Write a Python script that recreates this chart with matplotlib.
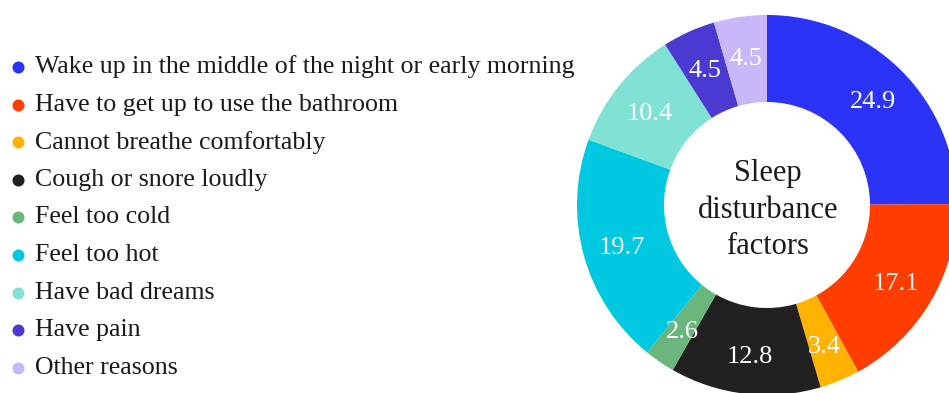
import matplotlib
matplotlib.use("Agg")
import matplotlib.pyplot as plt

categories = [
    "Wake up in the middle of the night or early morning",
    "Have to get up to use the bathroom",
    "Cannot breathe comfortably",
    "Cough or snore loudly",
    "Feel too cold",
    "Feel too hot",
    "Have bad dreams",
    "Have pain",
    "Other reasons",
]
values = [24.9, 17.1, 3.4, 12.8, 2.6, 19.7, 10.4, 4.5, 4.5]
colors = ["#2b33f6", "#ff3d00", "#ffb300", "#212121", "#6ab67c",
          "#00c8e0", "#80e1d5", "#4b3ad1", "#c8b8fa"]
center_title = "Sleep\ndisturbance\nfactors"

W, H = 949, 393
fig = plt.figure(figsize=(W / 100, H / 100), dpi=100)
ax = fig.add_axes([0, 0, 1, 1])

font = "Liberation Serif"
cx, cy = 767, H - 205
R, r = 190, 103

wedges, texts = ax.pie(
    values, colors=colors, startangle=90, counterclock=False,
    center=(cx, cy), radius=R, labels=[f"{v:.1f}" for v in values],
    labeldistance=0.79,
    wedgeprops=dict(width=R - r, linewidth=0),
    textprops=dict(color="white", fontsize=19, family=font,
                   ha="center", va="center"),
    frame=True,
)
for t in texts:
    x, y = t.get_position()
    t.set_position((x, y - 3))

ax.set_xlim(0, W)
ax.set_ylim(0, H)
ax.set_aspect("equal")
ax.axis("off")

ax.text(cx + 1, cy - 5, center_title, ha="center", va="center",
        fontsize=22, family=font, color="#1a1a1a", linespacing=1.32)

y0, dy = H - 67, 37.6
for i, (c, col) in enumerate(zip(categories, colors)):
    y = y0 - i * dy
    ax.scatter([18], [y], s=75, color=col, linewidths=0)
    ax.text(35, y, c, ha="left", va="center", fontsize=18.6,
            family=font, color="#1a1a1a")

fig.savefig("out.png", dpi=100)
